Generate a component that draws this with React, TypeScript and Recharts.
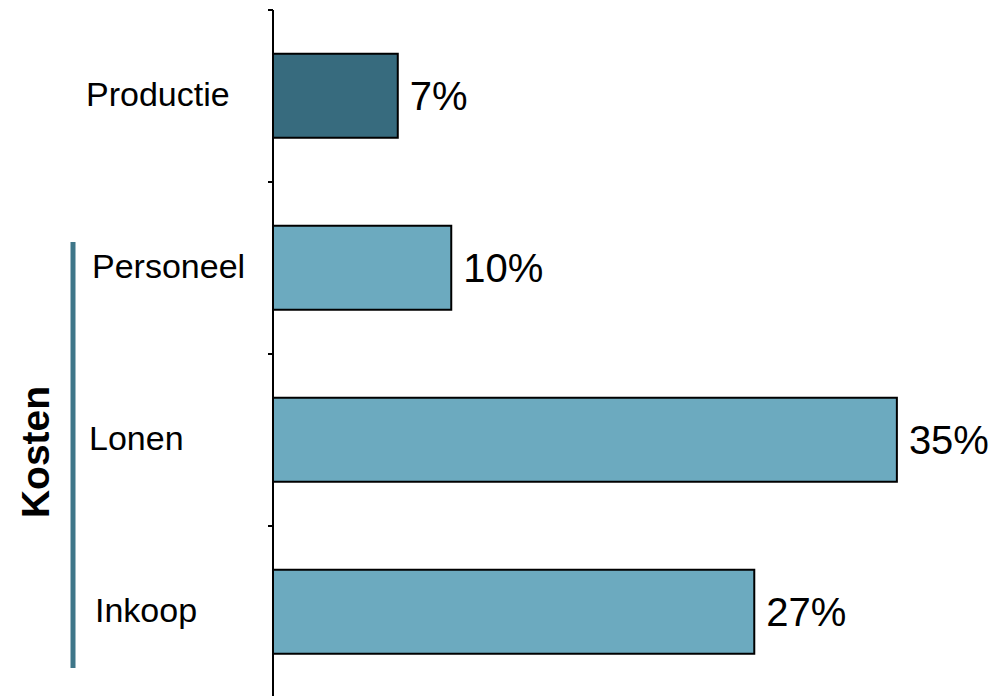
import { BarChart, Bar, XAxis, YAxis, Cell, LabelList, Customized } from "recharts";

const categories = ["Productie", "Personeel", "Lonen", "Inkoop"];
const shares = [7, 10, 35, 27];
const groups = ["productie", "kosten", "kosten", "kosten"];
const groupTitle = "Kosten";

const FONT = "'Liberation Sans', Arial, sans-serif";
const DARK = "#376b7e";
const LIGHT = "#6caabf";
// the labels in the original are not quite lined up
const labelX = [86, 92, 89, 95];

const data = categories.map((name, i) => ({ name, value: shares[i], group: groups[i] }));

function CategoryTick(props: any) {
  const { x, y, payload, index } = props;
  const half = payload?.offset ?? 0;
  return (
    <g>
      <line x1={x + 3} x2={x + 8} y1={y - half} y2={y - half} stroke="#000" strokeWidth={2} />
      <text x={labelX[index] ?? 90} y={y} dy="0.3em" textAnchor="start" fontSize={34} fontFamily={FONT} fill="#000">
        {payload.value}
      </text>
    </g>
  );
}

function KostenBracket() {
  return (
    <g>
      <line x1={73} x2={73} y1={242} y2={668} stroke="#3e7689" strokeWidth={5} />
      <text
        x={35}
        y={452}
        transform="rotate(-90 35 452)"
        textAnchor="middle"
        dominantBaseline="central"
        fontSize={39}
        fontWeight="bold"
        fontFamily={FONT}
        fill="#000"
      >
        {groupTitle}
      </text>
    </g>
  );
}

export default function App() {
  return (
    <div style={{ width: 1003, height: 696 }}>
      <style>{`body{margin:0}`}</style>
      <BarChart
        width={1003}
        height={696}
        data={data}
        layout="vertical"
        margin={{ top: 10, right: 17, bottom: -2, left: 0 }}
        barCategoryGap="25.5%"
      >
        <XAxis type="number" domain={[0, 40]} hide />
        <YAxis
          type="category"
          dataKey="name"
          width={273}
          axisLine={{ stroke: "#000", strokeWidth: 2 }}
          tickLine={false}
          tick={<CategoryTick />}
          interval={0}
        />
        <Bar dataKey="value" stroke="#000" strokeWidth={2} isAnimationActive={false}>
          {data.map((d, i) => (
            <Cell key={i} fill={d.group === "productie" ? DARK : LIGHT} />
          ))}
          <LabelList
            dataKey="value"
            position="right"
            offset={12}
            formatter={(v: any) => `${v}%`}
            style={{ fontSize: 40, fontFamily: FONT, fill: "#000" }}
          />
        </Bar>
        <Customized component={KostenBracket} />
      </BarChart>
    </div>
  );
}
